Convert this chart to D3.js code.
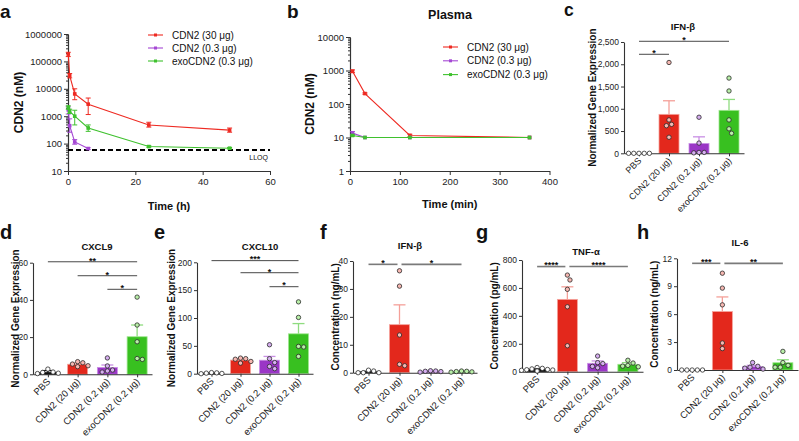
<!DOCTYPE html>
<html><head><meta charset="utf-8">
<script src="https://cdn.jsdelivr.net/npm/d3@7"></script>
<style>body{margin:0;background:#fff} svg{display:block}</style>
</head><body><svg id="chart" width="799" height="441"></svg>
<script>
// ---------------- DATA ----------------
const seriesNames = ["CDN2 (30 μg)", "CDN2 (0.3 μg)", "exoCDN2 (0.3 μg)"];
// panel a: tumor (h)
const aTime = [0.083, 0.5, 2, 6, 24, 48];
const aTimeLow = [0.083, 0.5, 2, 6];
const aCdn30 = [185000, 30000, 6500, 2750, 480, 310];
const aCdn30Lo = [150000, 25000, 4000, 1150, 400, 260];
const aCdn30Hi = [215000, 36000, 10000, 4600, 600, 370];
const aCdn03 = [1700, 450, 115, 66];
const aCdn03Lo = [1200, 260, 95, 61];
const aCdn03Hi = [2200, 800, 140, 71];
const aExo03 = [2100, 1500, 1000, 370, 78, 68];
const aExo03Lo = [1800, 1250, 480, 280, 73, 64];
const aExo03Hi = [2400, 1800, 1650, 480, 84, 72];
const aLLOQ = 58;
const aXTicks = [0, 20, 40, 60];
const aYTicks = [10, 100, 1000, 10000, 100000, 1000000];
// panel b: plasma (min)
const bTime = [5, 30, 120, 360];
const bCdn30 = [950, 205, 11.5, 10];
const bCdn30Lo = [860, 195, 10.5, 10];
const bCdn30Hi = [1040, 215, 12.5, 10];
const bCdn03 = [13.5, 10, 10, 10];
const bCdn03Lo = [12, 10, 10, 10];
const bCdn03Hi = [15, 10, 10, 10];
const bExo03 = [11.5, 10, 10, 10];
const bExo03Lo = [11, 10, 10, 10];
const bExo03Hi = [12, 10, 10, 10];
const bXTicks = [0, 100, 200, 300, 400];
const bYTicks = [1, 10, 100, 1000, 10000];

// bar panels
const groups = ["PBS", "CDN2 (20 μg)", "CDN2 (0.2 μg)", "exoCDN2 (0.2 μg)"];
// c: IFN-β gene expression
const cMean = [0, 875, 220, 965];
const cErr = [0, 1180, 370, 1210];
const cPts = [[0,0,0,0,0],[2040,750,650,620,360],[810,230,20,20,10],[1690,1400,750,550,450]];
const cYTicks = [0, 500, 1000, 1500, 2000, 2500];
const cSig = [[0, 3, "*", 2516], [0, 1, "*", 2224]];
// d: CXCL9
const dMean = [0.9, 5.4, 3.7, 20.2];
const dErr = [2, 6.1, 5, 26.5];
const dPts = [[2.8,1.2,1,0.6,0.4],[6.8,6.2,5.5,4.6,4.1],[8.8,4.5,2.3,1.8,1.2],[41.5,26.5,17.5,8,8.5]];
const dYTicks = [0, 20, 40, 60];
const dSig = [[0, 3, "**", 60.5], [1, 3, "*", 53], [2, 3, "*", 45.7]];
// e: CXCL10
const eMean = [1, 24.4, 24.2, 71.6];
const eErr = [1.5, 27, 31, 90];
const ePts = [[2,1.5,1,0.5,0],[28,27,26,22,19],[52,27,20,13,9],[129,101,49,48,31]];
const eYTicks = [0, 50, 100, 150, 200];
const eSig = [[0, 3, "***", 203], [1, 3, "*", 181.3], [2, 3, "*", 156.2]];
// f: IFN-β protein
const fMean = [0.3, 17.2, 0.5, 0.4];
const fErr = [0.5, 24.3, 0.6, 0.5];
const fPts = [[0.9,0.6,0,0,0],[36.5,31,13.5,3,2.5],[0.7,0.6,0.5,0.4,0.2],[0.6,0.5,0.4,0.3,0.2]];
const fYTicks = [0, 10, 20, 30, 40];
const fSig = [[0, 1, "*", 38.8], [1, 3, "*", 38.8]];
// g: TNF-α
const gMean = [15, 518, 60, 53];
const gErr = [20, 608, 77, 65];
const gPts = [[30,24,20,16,14,12,10,8,6,5],[692,657,590,465,186],[112,65,58,38,28],[82,62,45,40,35]];
const gYTicks = [0, 200, 400, 600, 800];
const gSig = [[0, 1, "****", 753], [1, 3, "****", 753]];
// h: IL-6
const hMean = [0, 6.28, 0.36, 0.78];
const hErr = [0, 7.85, 0.5, 1.1];
const hPts = [[0,0,0,0,0],[10.4,8.8,7,2.9,2.3],[0.8,0.4,0.3,0.2,0.1],[2,0.8,0.5,0.3,0.3]];
const hYTicks = [0, 3, 6, 9, 12];
const hSig = [[0, 1, "***", 11.46], [1, 3, "**", 11.46]];

// ---------------- STYLE ----------------
const FONT = 'Arial, "Liberation Sans", Helvetica, sans-serif';
const lineColors = ["#ee2a22", "#a548d4", "#3fc12e"];
const barFill = ["#111111", "#e3281c", "#9a36c6", "#38c020"];
const barEdge = ["#111111", "#f5a39c", "#c98fe4", "#9fe68f"];
const errColor = ["#111111", "#f4a099", "#c98fe4", "#8fdc7f"];
const dotFill = ["#ffffff", "#f6b7b1", "#d6aef0", "#b9f0a8"];

const svg = d3.select("#chart");

function styleAxis(g, fs) {
  g.select(".domain").attr("stroke", "#333").attr("stroke-width", 1.1);
  g.selectAll(".tick line").attr("stroke", "#333");
  g.selectAll(".tick text").attr("fill", "#222").attr("font-size", fs).attr("font-family", FONT);
}
function label(txt, x, y, fs, weight, anchor, rot) {
  const t = svg.append("text").attr("font-family", FONT).attr("font-size", fs)
    .attr("font-weight", weight || "normal").attr("text-anchor", anchor || "middle").attr("fill", "#111").text(txt);
  if (rot) t.attr("transform", `translate(${x},${y}) rotate(${rot})`);
  else t.attr("x", x).attr("y", y);
  return t;
}

// ---------------- LINE PANELS ----------------
function linePanel(o) {
  const x = d3.scaleLinear().domain(o.xDomain).range(o.xRange);
  const y = d3.scaleLog().domain(o.yDomain).range(o.yRange);
  const g = svg.append("g");
  const minor = [];
  for (let e = Math.round(Math.log10(o.yDomain[0])); e < Math.round(Math.log10(o.yDomain[1])); e++)
    for (let k = 2; k < 10; k++) minor.push(k * Math.pow(10, e));
  g.append("g").attr("transform", `translate(${o.xRange[0]},0)`)
    .call(d3.axisLeft(y).tickValues(minor).tickSize(2).tickFormat("").tickSizeOuter(0))
    .call(a => styleAxis(a, 9));
  g.append("g").attr("transform", `translate(${o.xRange[0]},0)`)
    .call(d3.axisLeft(y).tickValues(o.yTicks).tickFormat(d3.format("d")).tickSize(4).tickSizeOuter(0).tickPadding(2))
    .call(a => styleAxis(a, 9.5));
  g.append("g").attr("transform", `translate(0,${o.yRange[0]})`)
    .call(d3.axisBottom(x).tickValues(o.xTicks).tickSize(4).tickSizeOuter(0).tickPadding(3))
    .call(a => styleAxis(a, 9.5));

  if (o.lloq) {
    g.append("line").attr("x1", o.xRange[0]).attr("x2", o.xRange[1])
      .attr("y1", y(o.lloq)).attr("y2", y(o.lloq))
      .attr("stroke", "#000").attr("stroke-width", 2).attr("stroke-dasharray", "5,3");
    label("LLOQ", o.xRange[1] - 2, y(o.lloq) + 10, 7, "normal", "end");
  }

  o.series.forEach((s, i) => {
    const pts = s.t.map((t, k) => ({ t, v: s.v[k], lo: s.lo[k], hi: s.hi[k] }));
    g.append("path").datum(pts).attr("fill", "none").attr("stroke", lineColors[i]).attr("stroke-width", 1.1)
      .attr("d", d3.line().x(d => x(d.t)).y(d => y(d.v)));
    const eb = g.append("g").attr("stroke", lineColors[i]).attr("stroke-width", 1);
    pts.forEach(d => {
      if (d.hi - d.lo <= 0) return;
      eb.append("line").attr("x1", x(d.t)).attr("x2", x(d.t)).attr("y1", y(d.lo)).attr("y2", y(d.hi));
      [d.lo, d.hi].forEach(v => eb.append("line").attr("x1", x(d.t) - 2.5).attr("x2", x(d.t) + 2.5).attr("y1", y(v)).attr("y2", y(v)));
    });
    g.append("g").selectAll("rect").data(pts).join("rect")
      .attr("x", d => x(d.t) - 1.8).attr("y", d => y(d.v) - 1.8).attr("width", 3.6).attr("height", 3.6)
      .attr("fill", lineColors[i]);
  });

  seriesNames.forEach((n, i) => {
    const ly = o.legend[1] + i * o.legendStep;
    g.append("line").attr("x1", o.legend[0]).attr("x2", o.legend[0] + 15).attr("y1", ly).attr("y2", ly)
      .attr("stroke", lineColors[i]).attr("stroke-width", 1.1);
    g.append("rect").attr("x", o.legend[0] + 6).attr("y", ly - 1.5).attr("width", 3).attr("height", 3).attr("fill", lineColors[i]);
    label(n, o.legend[0] + 24, ly + 3.5, 10, "normal", "start");
  });

  label(o.xTitle, (o.xRange[0] + o.xRange[1]) / 2, o.xTitleY, 11, "bold");
  label("CDN2 (nM)", o.yTitleX, (o.yRange[0] + o.yRange[1]) / 2, 12, "bold", "middle", -90);
}

linePanel({
  xDomain: [0, 60], xRange: [68, 270], yDomain: [10, 1000000], yRange: [171, 34],
  xTicks: aXTicks, yTicks: aYTicks, lloq: aLLOQ,
  series: [
    { t: aTime, v: aCdn30, lo: aCdn30Lo, hi: aCdn30Hi },
    { t: aTimeLow, v: aCdn03, lo: aCdn03Lo, hi: aCdn03Hi },
    { t: aTime, v: aExo03, lo: aExo03Lo, hi: aExo03Hi }
  ],
  legend: [148, 35], legendStep: 13,
  xTitle: "Time (h)", xTitleY: 210, yTitleX: 23
});
linePanel({
  xDomain: [0, 400], xRange: [350, 549.5], yDomain: [1, 10000], yRange: [171, 37],
  xTicks: bXTicks, yTicks: bYTicks,
  series: [
    { t: bTime, v: bCdn30, lo: bCdn30Lo, hi: bCdn30Hi },
    { t: bTime, v: bCdn03, lo: bCdn03Lo, hi: bCdn03Hi },
    { t: bTime, v: bExo03, lo: bExo03Lo, hi: bExo03Hi }
  ],
  legend: [443, 47], legendStep: 13.8,
  xTitle: "Time (min)", xTitleY: 208, yTitleX: 314
});
label("Plasma", 450, 19, 12.5, "bold");

// ---------------- BAR PANELS ----------------
function beeswarm(vals, y, r) {
  const order = vals.map((v, i) => i).sort((a, b) => vals[b] - vals[a]);
  const placed = [];
  const off = new Array(vals.length).fill(0);
  order.forEach(i => {
    const py = y(vals[i]);
    const cands = [0];
    for (let k = 1; k < 8; k++) { cands.push(k * 2.6, -k * 2.6); }
    for (const c of cands) {
      if (placed.every(p => Math.hypot(p.x - c, p.y - py) >= 2 * r + 0.6)) { off[i] = c; placed.push({ x: c, y: py }); break; }
    }
  });
  return off;
}

function barPanel(o) {
  const x = d3.scalePoint().domain(groups).range(o.xRange).padding(0.5);
  const y = d3.scaleLinear().domain([0, o.yTicks[o.yTicks.length - 1]]).range(o.yRange);
  const g = svg.append("g");
  const bw = 20;
  groups.forEach((gr, i) => {
    const cx = x(gr);
    const top = y(o.mean[i]);
    if (o.err[i] > o.mean[i]) {
      g.append("line").attr("x1", cx).attr("x2", cx).attr("y1", top).attr("y2", y(o.err[i]))
        .attr("stroke", errColor[i]).attr("stroke-width", 1.3);
      g.append("line").attr("x1", cx - 6).attr("x2", cx + 6).attr("y1", y(o.err[i])).attr("y2", y(o.err[i]))
        .attr("stroke", errColor[i]).attr("stroke-width", 1.3);
    }
    const h = o.yRange[0] - top;
    if (h > 0.2) {
      g.append("rect").attr("x", cx - bw / 2).attr("y", top).attr("width", bw).attr("height", h)
        .attr("fill", barFill[i]).attr("stroke", barEdge[i]).attr("stroke-width", 0.8);
    }
  });
  g.append("g").attr("transform", `translate(${o.xRange[0]},0)`)
    .call(d3.axisLeft(y).tickValues(o.yTicks).tickSize(3).tickSizeOuter(0).tickPadding(2))
    .call(a => styleAxis(a, 8.5));
  g.append("g").attr("transform", `translate(0,${o.yRange[0]})`)
    .call(d3.axisBottom(x).tickSize(3).tickSizeOuter(0).tickFormat(""))
    .call(a => styleAxis(a, 8.5));
  groups.forEach(gr => {
    label(gr, x(gr) + 3, o.yRange[0] + 8, o.xfs, "normal", "end", -45).attr("fill", "#222");
  });
  groups.forEach((gr, i) => {
    const off = beeswarm(o.pts[i], y, 2.2);
    g.append("g").selectAll("circle").data(o.pts[i]).join("circle")
      .attr("cx", (d, k) => x(gr) + off[k]).attr("cy", d => y(d)).attr("r", 2.2)
      .attr("fill", dotFill[i]).attr("stroke", "#2a2a2a").attr("stroke-width", 0.8);
  });
  o.sig.forEach(([a, b, s, v]) => {
    const x1 = x(groups[a]) + (o.thick && a > 0 ? 2 : 0);
    const x2 = x(groups[b]) - (o.thick && b === 1 ? 2 : 0);
    g.append("line").attr("x1", x1).attr("x2", x2).attr("y1", y(v)).attr("y2", y(v))
      .attr("stroke", o.thick ? "#7a7a7a" : "#333").attr("stroke-width", o.thick ? 1.6 : 0.9);
    label(s, (x1 + x2) / 2, y(v) + 1.8, 9, "bold");
  });
  label(o.title, o.titleXY[0], o.titleXY[1], 9.5, "bold");
  label(o.ylabel, o.ylabelX, (o.yRange[0] + o.yRange[1]) / 2, 10, "bold", "middle", -90);
  label(o.letter, o.letterXY[0], o.letterXY[1], o.letterFs || 20, "bold", "start");
}

barPanel({ letter: "c", letterXY: [564, 16], letterFs: 17.5, title: "IFN-β", titleXY: [683, 30],
  ylabel: "Normalized Gene Expression", ylabelX: 596, xfs: 9,
  xRange: [624, 744], yRange: [153.3, 42], yTicks: cYTicks,
  mean: cMean, err: cErr, pts: cPts, sig: cSig });
barPanel({ letter: "d", letterXY: [0, 239], title: "CXCL9", titleXY: [97, 250],
  ylabel: "Normalized Gene Expression", ylabelX: 19, xfs: 9.5,
  xRange: [33, 152], yRange: [374.3, 262.7], yTicks: dYTicks,
  mean: dMean, err: dErr, pts: dPts, sig: dSig });
barPanel({ letter: "e", letterXY: [154, 239], title: "CXCL10", titleXY: [260, 250],
  ylabel: "Normalized Gene Expression", ylabelX: 175, xfs: 9.5,
  xRange: [197, 313], yRange: [373.7, 262.3], yTicks: eYTicks,
  mean: eMean, err: eErr, pts: ePts, sig: eSig });
barPanel({ letter: "f", letterXY: [320, 239], title: "IFN-β", titleXY: [410, 249],
  ylabel: "Concentration (ng/mL)", ylabelX: 339, thick: true, xfs: 9.5,
  xRange: [353, 477], yRange: [372.7, 261], yTicks: fYTicks,
  mean: fMean, err: fErr, pts: fPts, sig: fSig });
barPanel({ letter: "g", letterXY: [476, 239], title: "TNF-α", titleXY: [586, 255],
  ylabel: "Concentration (pg/mL)", ylabelX: 498, thick: true, xfs: 9.5,
  xRange: [522, 643], yRange: [371.7, 260], yTicks: gYTicks,
  mean: gMean, err: gErr, pts: gPts, sig: gSig });
barPanel({ letter: "h", letterXY: [637, 239], title: "IL-6", titleXY: [740, 246],
  ylabel: "Concentration (ng/mL)", ylabelX: 658, thick: true, xfs: 9.5,
  xRange: [677, 798], yRange: [370, 258.3], yTicks: hYTicks,
  mean: hMean, err: hErr, pts: hPts, sig: hSig });

label("a", 0, 17.5, 19, "bold", "start");
label("b", 287, 17.5, 19, "bold", "start");
</script></body></html>
